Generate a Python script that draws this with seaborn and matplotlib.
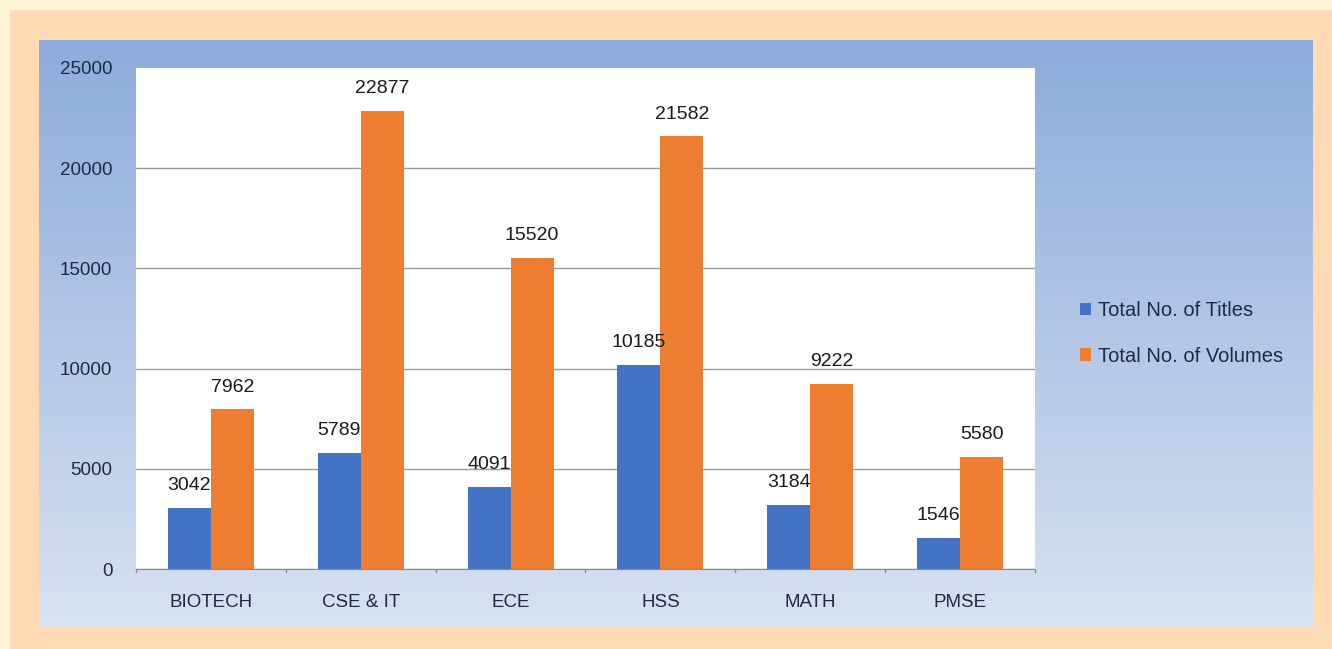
import numpy as np
import pandas as pd
import seaborn as sns
import matplotlib.pyplot as plt
from matplotlib.patches import Rectangle

# data
departments = ['BIOTECH', 'CSE & IT', 'ECE', 'HSS', 'MATH', 'PMSE']
titles = [3042, 5789, 4091, 10185, 3184, 1546]
volumes = [7962, 22877, 15520, 21582, 9222, 5580]
series_names = ['Total No. of Titles', 'Total No. of Volumes']

df = pd.DataFrame({
    'dept': departments * 2,
    'count': titles + volumes,
    'series': [series_names[0]] * 6 + [series_names[1]] * 6,
})

sns.set_style('white')
plt.rcParams['font.family'] = ['Liberation Sans', 'DejaVu Sans']

W, H = 1332, 649
fig = plt.figure(figsize=(W / 100, H / 100), dpi=100)
fig.patch.set_facecolor('#FDDAB2')

# thin cream strip at left / top edge
fig.add_artist(Rectangle((0, 0), 9 / W, 1, transform=fig.transFigure,
                         color='#FEF6D6', zorder=0))
fig.add_artist(Rectangle((0, 1 - 9 / H), 1, 9 / H, transform=fig.transFigure,
                         color='#FEF6D6', zorder=0))

# blue gradient panel behind the chart
bg = fig.add_axes([39 / W, 1 - 628 / H, (1313 - 39) / W, (628 - 40) / H])
grad = np.linspace(0, 1, 256).reshape(-1, 1)
top = np.array([0x8D, 0xAB, 0xDB]) / 255
bot = np.array([0xD8, 0xE2, 0xF1]) / 255
img = top + (bot - top) * grad[..., None]
bg.imshow(img, aspect='auto', extent=[0, 1, 0, 1])
bg.set_axis_off()

ax = fig.add_axes([136 / W, 1 - 569 / H, (1035 - 136) / W, (569 - 68) / H])
ax.set_facecolor('white')
sns.barplot(data=df, x='dept', y='count', hue='series',
            palette=['#4472C4', '#ED7D31'], width=0.575, saturation=1,
            linewidth=0, errorbar=None, ax=ax, zorder=3)

for cont in ax.containers:
    ax.bar_label(cont, padding=10, fontsize=14, color='#1A1A1A')

ax.set_ylim(0, 25000)
ax.set_yticks(range(0, 25001, 5000))
ax.yaxis.grid(True, color='#9A9A9A', linewidth=1)
ax.set_axisbelow(True)
ax.set_xlim(-0.5, 5.5)
ax.set_xlabel('')
ax.set_ylabel('')
for s in ['top', 'right', 'left']:
    ax.spines[s].set_visible(False)
ax.spines['bottom'].set_color('#8A8A8A')
ax.tick_params(axis='y', length=0, pad=17, labelsize=13.5, labelcolor='#1F2A44')
ax.tick_params(axis='x', length=0, pad=18, labelsize=13.5, labelcolor='#1F2A44')
for xb in np.arange(-0.5, 6, 1):
    ax.plot([xb, xb], [0, -150], color='#8A8A8A', lw=1, clip_on=False)

ax.legend(loc='center left', bbox_to_anchor=(1.03, 0.47), frameon=False,
          fontsize=14.5, handlelength=0.55, handleheight=0.55, handletextpad=0.35,
          labelspacing=1.3, labelcolor='#1F2A44')

fig.canvas.draw()
ax.yaxis.get_gridlines()[-1].set_visible(False)

fig.savefig('out.png', dpi=100, facecolor=fig.get_facecolor())
